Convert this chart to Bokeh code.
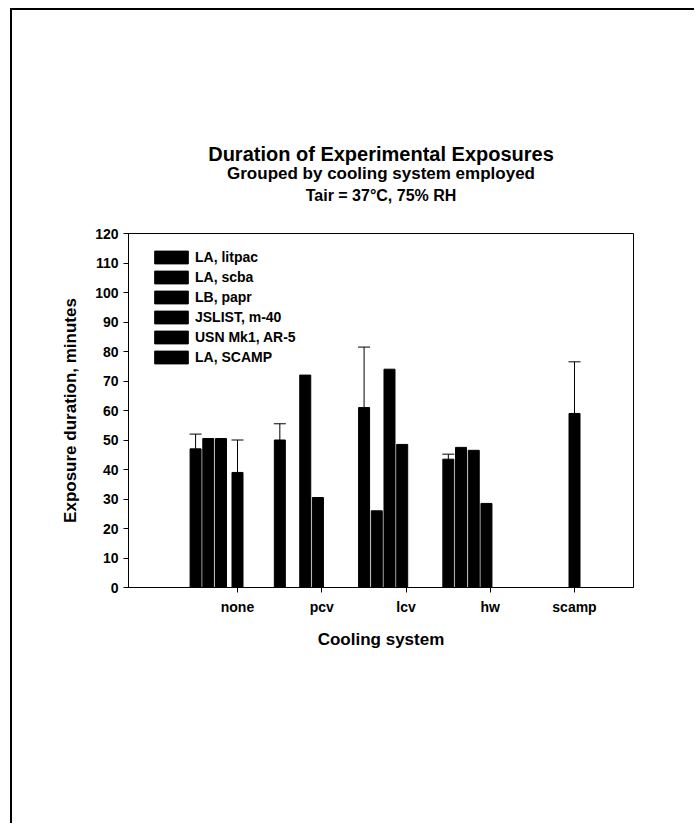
import math
from bokeh.plotting import figure
from bokeh.models import (Range1d, FixedTicker, Title, Legend, LegendItem, Whisker,
                          TeeHead, ColumnDataSource)
from bokeh.embed import file_html
from bokeh.resources import INLINE

nan = float("nan")

# ---- data ----
categories = ["none", "pcv", "lcv", "hw", "scamp"]
series_names = ["LA, litpac", "LA, scba", "LB, papr", "JSLIST, m-40", "USN Mk1, AR-5", "LA, SCAMP"]
la_litpac = [47.0, 50.0, 61.0, 43.5, nan]
la_litpac_err = [5.0, 5.5, 20.5, 1.7, nan]
la_scba = [50.5, nan, 26.0, 47.5, nan]
lb_papr = [50.5, 72.0, 74.0, 46.5, nan]
jslist_m40 = [nan, 30.5, 48.5, 28.5, nan]
usn_mk1_ar5 = [39.0, nan, nan, nan, nan]
usn_mk1_ar5_err = [11.0, nan, nan, nan, nan]
la_scamp = [nan, nan, nan, nan, 59.0]
la_scamp_err = [nan, nan, nan, nan, 17.5]
y_ticks = list(range(0, 121, 10))

values = [la_litpac, la_scba, lb_papr, jslist_m40, usn_mk1_ar5, la_scamp]
errors = [la_litpac_err, None, None, None, usn_mk1_ar5_err, la_scamp_err]

# ---- layout (page pixel positions) ----
PAGE_W, PAGE_H = 696, 825
OX, OY = 10, 8          # page-edge offset of the scanned sheet
BW = 2                  # sheet border width
W, H = PAGE_W - OX - BW, PAGE_H - OY - BW
CX, CY = OX + BW, OY + BW   # canvas origin on page
FL, FR, FT, FB = 128 - CX, 633 - CX, 233 - CY, 587 - CY
TICK0, TICKSTEP = 237 - CX, 84.25
x_start = -(TICK0 - FL) / TICKSTEP
x_end = (len(categories) - 1) + (FR - (TICK0 + 4 * TICKSTEP)) / TICKSTEP

FONT = "Liberation Sans"

p = figure(width=W, height=H, output_backend="svg", toolbar_location=None,
           x_range=Range1d(x_start, x_end), y_range=Range1d(0, 120),
           min_border_left=FL, min_border_right=W - FR,
           min_border_top=FT, min_border_bottom=H - FB)
p.styles = {"margin-left": f"{OX}px", "margin-top": f"{OY}px",
            "border-left": f"{BW}px solid black", "border-top": f"{BW}px solid black"}
p.background_fill_color = "white"
p.border_fill_color = "white"
p.outline_line_color = "black"
p.outline_line_width = 1
p.xgrid.visible = False
p.ygrid.visible = False

# axes
p.xaxis.ticker = FixedTicker(ticks=list(range(len(categories))))
p.xaxis.major_label_overrides = {i: c for i, c in enumerate(categories)}
p.yaxis.ticker = FixedTicker(ticks=y_ticks)
for ax in (p.xaxis, p.yaxis):
    ax.axis_line_color = "black"
    ax.major_tick_line_color = "black"
    ax.minor_tick_line_color = None
    ax.major_tick_in = 0
    ax.major_tick_out = 5
    ax.major_label_text_font = FONT
    ax.major_label_text_font_style = "bold"
    ax.major_label_text_font_size = "14px"
    ax.major_label_text_color = "black"
    ax.axis_label_text_font = FONT
    ax.axis_label_text_font_style = "bold"
    ax.axis_label_text_font_size = "17px"
    ax.axis_label_text_color = "black"
p.xaxis.axis_label = "Cooling system"
p.yaxis.axis_label = "Exposure duration, minutes"
p.xaxis.major_label_standoff = 6
p.xaxis.axis_label_standoff = 12
p.yaxis.major_label_standoff = 5
p.yaxis.axis_label_standoff = 12

# bars
slot_w = 12.7 / TICKSTEP
bar_w = 11.0 / TICKSTEP
dodge = [-3.3, -2.3, -1.3, -0.3, 0.0, 0.0]
items = []
for i, (name, vals) in enumerate(zip(series_names, values)):
    xs = [k + dodge[i] * slot_w for k in range(len(categories))]
    src = ColumnDataSource(dict(x=[x for x, v in zip(xs, vals) if not math.isnan(v)],
                                top=[v for v in vals if not math.isnan(v)]))
    r = p.vbar(x="x", top="top", bottom=0, width=bar_w, source=src,
               fill_color="black", line_color="black")
    items.append(LegendItem(label=name, renderers=[r]))
    errs = errors[i]
    if errs is not None:
        ex, elo, ehi = [], [], []
        for x, v, e in zip(xs, vals, errs):
            if not math.isnan(v) and not math.isnan(e):
                ex.append(x); elo.append(v); ehi.append(v + e)
        esrc = ColumnDataSource(dict(base=ex, lower=elo, upper=ehi))
        p.add_layout(Whisker(source=esrc, base="base", lower="lower", upper="upper",
                             dimension="height", line_color="black", line_width=1,
                             lower_head=None,
                             upper_head=TeeHead(size=12, line_color="black", line_width=1)))

legend = Legend(items=items, location=(22, 222), orientation="vertical")
legend.glyph_width = 42
legend.glyph_height = 16
legend.label_height = 16
legend.label_standoff = 3
legend.spacing = 4
legend.padding = 0
legend.margin = 0
legend.border_line_color = None
legend.background_fill_alpha = 0
legend.label_text_font = FONT
legend.label_text_font_style = "bold"
legend.label_text_font_size = "14px"
legend.label_text_color = "black"
p.add_layout(legend, "center")

# titles (first added sits closest to the frame); a blank spacer keeps the
# third heading line clear of the plot frame
for txt, fs, so in [(" ", "10px", 13),
                    ("Tair = 37\u00b0C, 75% RH", "16px", 7),
                    ("Grouped by cooling system employed", "17px", -3),
                    ("Duration of Experimental Exposures", "20px", -3)]:
    p.add_layout(Title(text=txt, align="center", text_font=FONT, text_font_style="bold",
                       text_font_size=fs, text_color="black", standoff=so), "above")

open("out.html", "w").write(file_html(p, INLINE))
